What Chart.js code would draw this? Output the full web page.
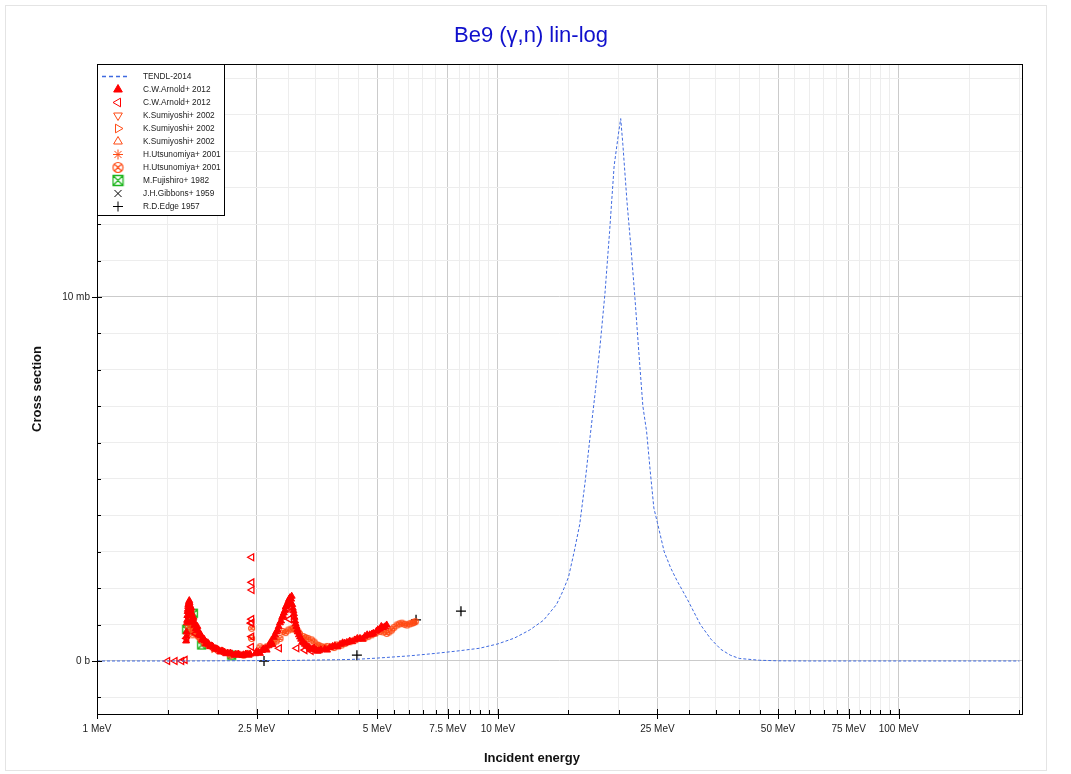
<!DOCTYPE html>
<html>
<head>
<meta charset="utf-8">
<title>Be9 (γ,n) lin-log</title>
<script src="https://cdn.jsdelivr.net/npm/chart.js@4.4.1/dist/chart.umd.min.js"></script>
<style>
  html, body { margin: 0; padding: 0; background: #fff; }
  #plot { display: block; }
</style>
</head>
<body>
<canvas id="plot" width="1071" height="774"></canvas>
<script>
// Energies in MeV, cross sections in mb

// TENDL-2014 evaluation
const tendlE = [1, 1.665, 2, 2.5, 3, 3.5, 4, 4.5, 5, 6, 7, 8, 9, 10, 11, 12, 13, 14, 14.5, 15, 15.5, 16, 16.5, 17, 17.5, 18, 18.5, 19, 19.5, 20, 20.25, 20.5, 21, 21.5, 22, 22.5, 23, 23.5, 24, 24.5, 25, 26, 27, 28, 29, 30, 32, 34, 36, 38, 40, 45, 50, 60, 80, 100, 150, 200];
const tendlXs = [0, 0, 0.005, 0.01, 0.015, 0.025, 0.035, 0.05, 0.08, 0.14, 0.21, 0.28, 0.35, 0.47, 0.63, 0.85, 1.12, 1.55, 1.9, 2.3, 3.0, 3.75, 4.9, 6.2, 7.4, 8.7, 10.1, 11.8, 13.6, 14.5, 14.9, 14.2, 12.6, 11.3, 9.9, 8.4, 7.0, 6.3, 5.2, 4.2, 3.8, 3.0, 2.55, 2.2, 1.9, 1.6, 1.0, 0.6, 0.32, 0.16, 0.07, 0.02, 0.005, 0, 0, 0, 0, 0];

// C.W.Arnold+ 2012 (filled triangles)
const arnoldAE = [1.668, 1.672, 1.676, 1.680, 1.685, 1.690, 1.696, 1.702, 1.708, 1.714, 1.720, 1.727, 1.735, 1.745, 1.757, 1.770, 1.785, 1.800, 1.817, 1.835, 1.855, 1.877, 1.90, 1.925, 1.95, 1.98, 2.01, 2.04, 2.08, 2.12, 2.17, 2.22, 2.27, 2.32, 2.37, 2.41,
  1.671, 1.678, 1.683, 1.688, 1.694, 1.699, 1.705, 1.711, 1.717, 1.723, 1.730, 1.740, 1.750, 1.765, 1.780, 1.795, 1.810, 1.830, 1.850, 1.870, 1.890, 1.915, 1.940, 1.970, 2.00, 2.03, 2.06, 2.10, 2.15, 2.20, 2.25, 2.30, 2.35, 2.39,
  2.48, 2.53, 2.58, 2.63, 2.68, 2.72, 2.76, 2.80, 2.84, 2.88, 2.91, 2.94, 2.97, 3.00, 3.03, 3.05, 3.07, 3.09, 3.11, 3.13, 3.16, 3.19, 3.23, 3.28, 3.33, 3.39, 3.45, 3.52, 3.58,
  2.50, 2.55, 2.60, 2.65, 2.70, 2.74, 2.78, 2.82, 2.86, 2.895, 2.925, 2.955, 2.985, 3.015, 3.04, 3.06, 3.08, 3.10, 3.12, 3.145, 3.17, 3.21, 3.25, 3.30, 3.36, 3.42, 3.48, 3.55, 3.62,
  3.70, 3.81, 3.92, 4.04, 4.15, 4.20, 4.27, 4.40, 4.53, 4.66, 4.79, 4.89, 4.98, 5.08, 5.17, 5.23, 5.28,
  3.75, 3.87, 3.98, 4.10, 4.33, 4.46, 4.60, 4.72, 4.85, 5.02, 5.12];
const arnoldAXs = [0.55, 0.80, 1.05, 1.25, 1.42, 1.55, 1.62, 1.60, 1.52, 1.42, 1.33, 1.24, 1.16, 1.08, 1.00, 0.92, 0.84, 0.76, 0.69, 0.62, 0.56, 0.51, 0.46, 0.42, 0.38, 0.34, 0.30, 0.27, 0.24, 0.22, 0.20, 0.18, 0.17, 0.17, 0.18, 0.19,
  0.68, 1.12, 1.36, 1.50, 1.58, 1.66, 1.48, 1.36, 1.46, 1.28, 1.12, 1.20, 0.98, 0.88, 0.95, 0.72, 0.75, 0.58, 0.60, 0.47, 0.50, 0.40, 0.41, 0.33, 0.32, 0.25, 0.27, 0.20, 0.22, 0.16, 0.19, 0.15, 0.19, 0.16,
  0.20, 0.24, 0.29, 0.34, 0.42, 0.52, 0.65, 0.80, 0.95, 1.10, 1.25, 1.38, 1.52, 1.64, 1.74, 1.70, 1.55, 1.38, 1.20, 1.02, 0.86, 0.72, 0.60, 0.50, 0.43, 0.37, 0.33, 0.30, 0.28,
  0.26, 0.21, 0.33, 0.30, 0.48, 0.45, 0.72, 0.85, 1.05, 1.20, 1.32, 1.48, 1.58, 1.70, 1.62, 1.78, 1.45, 1.30, 1.10, 0.95, 0.80, 0.66, 0.52, 0.46, 0.40, 0.32, 0.36, 0.27, 0.31,
  0.33, 0.37, 0.42, 0.46, 0.49, 0.51, 0.55, 0.58, 0.62, 0.68, 0.72, 0.76, 0.82, 0.88, 0.92, 0.94, 0.99,
  0.30, 0.40, 0.39, 0.50, 0.53, 0.62, 0.60, 0.72, 0.74, 0.86, 0.95];

// C.W.Arnold+ 2012 (open left triangles)
const arnoldBE = [1.50, 1.565, 1.626, 1.658, 1.674, 1.712, 1.733, 1.762, 2.425, 2.428, 2.431, 2.433, 2.431, 2.435, 2.433, 2.431, 2.85, 2.98, 3.02, 3.15, 3.30, 3.42];
const arnoldBXs = [0.0, 0.0, 0.0, 0.03, 0.62, 1.35, 1.05, 0.75, 1.04, 0.39, 0.67, 1.05, 1.15, 1.95, 2.16, 2.85, 0.35, 1.45, 1.15, 0.35, 0.30, 0.28];

// K.Sumiyoshi+ 2002 (three sets)
const sumiDownE = [1.74, 1.80];
const sumiDownXs = [0.95, 0.62];
const sumiRightE = [1.85, 1.96];
const sumiRightXs = [0.52, 0.34];
const sumiUpE = [2.05, 2.72];
const sumiUpXs = [0.26, 0.55];

// H.Utsunomiya+ 2001
const utsuStarE = [1.71, 1.78, 1.88];
const utsuStarXs = [1.30, 0.78, 0.47];
const utsuCircE = [1.70, 1.72, 1.74, 1.76, 1.79, 1.82, 1.86, 1.90, 1.95, 2.00, 2.07, 2.15, 2.23, 2.32, 2.38, 2.43, 2.43, 2.55, 2.65, 2.75, 2.86, 2.91, 3.00, 3.09, 3.17, 3.27, 3.36, 3.43, 3.54, 3.63, 3.85, 3.96, 4.07, 4.27, 4.53, 4.74, 4.94, 5.08, 5.28, 5.43, 5.60, 5.76, 5.93, 6.10, 6.22,
  1.69, 1.71, 1.73, 2.80, 2.95, 3.05, 3.12, 3.20, 3.31, 3.48, 3.58, 3.70, 3.75, 3.90, 4.00, 4.15, 4.40, 4.64, 4.84, 5.18, 5.35, 5.50, 5.68, 5.85, 6.02, 6.16];
const utsuCircXs = [1.20, 1.02, 0.88, 0.76, 0.67, 0.58, 0.50, 0.42, 0.36, 0.30, 0.25, 0.16, 0.19, 0.16, 0.21, 0.90, 0.62, 0.39, 0.39, 0.49, 0.62, 0.81, 0.85, 0.90, 0.81, 0.67, 0.62, 0.58, 0.44, 0.39, 0.39, 0.44, 0.44, 0.53, 0.62, 0.67, 0.76, 0.81, 0.76, 0.85, 0.99, 1.04, 0.99, 1.04, 1.08,
  0.95, 0.82, 0.72, 0.55, 0.78, 0.88, 0.86, 0.75, 0.64, 0.52, 0.42, 0.38, 0.40, 0.37, 0.42, 0.48, 0.58, 0.63, 0.72, 0.80, 0.80, 0.92, 1.02, 1.01, 1.02, 1.06];

// M.Fujishiro+ 1982
const fujiE = [1.674, 1.722, 1.739, 1.824, 2.167];
const fujiXs = [0.87, 1.08, 1.31, 0.44, 0.16];

// J.H.Gibbons+ 1959
const gibbonsE = [1.69];
const gibbonsXs = [1.10];

// R.D.Edge 1957
const edgeE = [2.61, 4.45, 6.25, 8.09];
const edgeXs = [0.0, 0.16, 1.13, 1.37];

// Axis ticks
const xTicks = [1, 1.5, 2, 2.5, 3, 3.5, 4, 4.5, 5, 5.5, 6, 6.5, 7, 7.5, 8, 8.5, 9, 9.5, 10, 15, 20, 25, 30, 35, 40, 45, 50, 55, 60, 65, 70, 75, 80, 85, 90, 95, 100, 150, 200];
const xMajor = [1, 2.5, 5, 7.5, 10, 25, 50, 75, 100];
const xLabels = ['1 MeV', '2.5 MeV', '5 MeV', '7.5 MeV', '10 MeV', '25 MeV', '50 MeV', '75 MeV', '100 MeV'];
const yTicks = [-1, 0, 1, 2, 3, 4, 5, 6, 7, 8, 9, 10, 11, 12, 13, 14, 15, 16];
const yMajor = [0, 10];
const yLabels = ['0 b', '10 mb'];

const FONT = '"Liberation Sans", Arial, sans-serif';
const RED = '#ff0000';
const ORANGE = '#ff4a14';
const GREEN = '#1fb51f';
const BLUE = '#3f6ae0';

function pairs(es, vs) {
    return es.map((e, i) => ({ x: e, y: vs[i] }));
}

// Small canvases for the two marker shapes Chart.js does not have
function circleCross(color, r) {
    const c = document.createElement('canvas');
    const s = Math.ceil(r * 2 + 3);
    c.width = s; c.height = s;
    const g = c.getContext('2d');
    const m = s / 2;
    g.strokeStyle = color;
    g.lineWidth = 1.2;
    g.beginPath();
    g.arc(m, m, r, 0, Math.PI * 2);
    const d = r * 0.7071;
    g.moveTo(m - d, m - d); g.lineTo(m + d, m + d);
    g.moveTo(m - d, m + d); g.lineTo(m + d, m - d);
    g.stroke();
    return c;
}

function squareCross(color, half) {
    const c = document.createElement('canvas');
    const s = Math.ceil(half * 2 + 3);
    c.width = s; c.height = s;
    const g = c.getContext('2d');
    const m = s / 2;
    g.strokeStyle = color;
    g.lineWidth = 1.3;
    g.beginPath();
    g.rect(m - half, m - half, half * 2, half * 2);
    g.moveTo(m - half, m - half); g.lineTo(m + half, m + half);
    g.moveTo(m - half, m + half); g.lineTo(m + half, m - half);
    g.stroke();
    return c;
}

const circPlot = circleCross(ORANGE, 3);
const circLegend = circleCross(ORANGE, 5);
const sqPlot = squareCross(GREEN, 4);
const sqLegend = squareCross(GREEN, 5);

function markers(label, data, style, color, filled, rotation, radius, legendStyle) {
    return {
        label: label,
        data: data,
        showLine: false,
        pointStyle: style,
        pointRotation: rotation,
        pointRadius: radius,
        pointBorderWidth: filled ? 1 : 1.3,
        pointBorderColor: color,
        pointBackgroundColor: filled ? color : 'rgba(0,0,0,0)',
        borderColor: color,
        backgroundColor: filled ? color : 'rgba(0,0,0,0)',
        legendStyle: legendStyle || style
    };
}

const datasets = [
    {
        label: 'TENDL-2014',
        data: pairs(tendlE, tendlXs),
        showLine: true,
        borderColor: BLUE,
        borderWidth: 1,
        borderDash: [3, 2],
        pointRadius: 0,
        tension: 0,
        isLine: true
    },
    markers('C.W.Arnold+ 2012', pairs(arnoldAE, arnoldAXs), 'triangle', RED, true, 0, 4),
    markers('C.W.Arnold+ 2012', pairs(arnoldBE, arnoldBXs), 'triangle', RED, false, 270, 4),
    markers('K.Sumiyoshi+ 2002', pairs(sumiDownE, sumiDownXs), 'triangle', ORANGE, false, 180, 4),
    markers('K.Sumiyoshi+ 2002', pairs(sumiRightE, sumiRightXs), 'triangle', ORANGE, false, 90, 4),
    markers('K.Sumiyoshi+ 2002', pairs(sumiUpE, sumiUpXs), 'triangle', ORANGE, false, 0, 4),
    markers('H.Utsunomiya+ 2001', pairs(utsuStarE, utsuStarXs), 'star', ORANGE, false, 0, 4),
    markers('H.Utsunomiya+ 2001', pairs(utsuCircE, utsuCircXs), circPlot, ORANGE, false, 0, 3, circLegend),
    markers('M.Fujishiro+ 1982', pairs(fujiE, fujiXs), sqPlot, GREEN, false, 0, 4, sqLegend),
    markers('J.H.Gibbons+ 1959', pairs(gibbonsE, gibbonsXs), 'crossRot', '#000', false, 0, 4),
    markers('R.D.Edge 1957', pairs(edgeE, edgeXs), 'cross', '#000', false, 0, 5)
];

// Frame, tick marks, titles and the boxed legend
const decorations = {
    id: 'decorations',
    afterDatasetsDraw(chart) {
        const ctx = chart.ctx;
        const a = chart.chartArea;
        const xs = chart.scales.x;
        const ys = chart.scales.y;
        ctx.save();
        ctx.strokeStyle = '#000';
        ctx.lineWidth = 1;
        ctx.beginPath();
        xTicks.forEach(v => {
            const px = Math.round(xs.getPixelForValue(v)) + 0.5;
            if (xMajor.includes(v)) {
                ctx.moveTo(px, a.bottom - 5); ctx.lineTo(px, a.bottom + 5);
            } else {
                ctx.moveTo(px, a.bottom - 4); ctx.lineTo(px, a.bottom);
            }
        });
        yTicks.forEach(v => {
            const py = Math.round(ys.getPixelForValue(v)) + 0.5;
            if (yMajor.includes(v)) {
                ctx.moveTo(a.left - 5, py); ctx.lineTo(a.left + 5, py);
            } else {
                ctx.moveTo(a.left, py); ctx.lineTo(a.left + 4, py);
            }
        });
        ctx.stroke();
        ctx.strokeRect(a.left + 0.5, a.top + 0.5, a.right - a.left, a.bottom - a.top);
        ctx.restore();
    },
    afterDraw(chart) {
        const ctx = chart.ctx;
        const a = chart.chartArea;
        ctx.save();

        // outer figure outline
        ctx.strokeStyle = '#e4e4e4';
        ctx.lineWidth = 1;
        ctx.strokeRect(5.5, 5.5, 1041, 765);

        // titles
        ctx.fillStyle = '#1010cc';
        ctx.font = '22px ' + FONT;
        ctx.textAlign = 'center';
        ctx.textBaseline = 'middle';
        ctx.fillText('Be9 (γ,n) lin-log', 531, 36);

        ctx.fillStyle = '#111';
        ctx.font = 'bold 13px ' + FONT;
        ctx.fillText('Incident energy', 532, 758);
        ctx.save();
        ctx.translate(37, (a.top + a.bottom) / 2);
        ctx.rotate(-Math.PI / 2);
        ctx.fillText('Cross section', 0, 0);
        ctx.restore();

        // legend box
        const bx = a.left, by = a.top, bw = 127, rowH = 13;
        const bh = datasets.length * rowH + 8;
        ctx.fillStyle = '#fff';
        ctx.fillRect(bx, by, bw, bh);
        ctx.strokeStyle = '#000';
        ctx.strokeRect(bx + 0.5, by + 0.5, bw, bh);

        ctx.font = '8.3px ' + FONT;
        ctx.textAlign = 'left';
        ctx.textBaseline = 'middle';
        datasets.forEach((ds, i) => {
            const cy = by + 12.5 + i * rowH;
            const cx = bx + 21;
            if (ds.isLine) {
                ctx.save();
                ctx.strokeStyle = ds.borderColor;
                ctx.lineWidth = 1.5;
                ctx.setLineDash([4, 3]);
                ctx.beginPath();
                ctx.moveTo(bx + 5, cy);
                ctx.lineTo(bx + 32, cy);
                ctx.stroke();
                ctx.restore();
            } else {
                ctx.save();
                ctx.strokeStyle = ds.pointBorderColor;
                ctx.fillStyle = ds.pointBackgroundColor;
                ctx.lineWidth = 1;
                Chart.helpers.drawPoint(ctx, {
                    pointStyle: ds.legendStyle,
                    rotation: ds.pointRotation,
                    radius: 5,
                    borderWidth: 1
                }, cx, cy);
                ctx.restore();
            }
            ctx.fillStyle = '#222';
            ctx.fillText(ds.label, bx + 46, cy);
        });
        ctx.restore();
    }
};

const ctx = document.getElementById('plot').getContext('2d');
new Chart(ctx, {
    type: 'scatter',
    data: { datasets: datasets },
    options: {
        responsive: false,
        animation: false,
        events: [],
        layout: { padding: { top: 64, right: 49, bottom: 0, left: 0 } },
        plugins: {
            legend: { display: false },
            title: { display: false },
            tooltip: { enabled: false }
        },
        scales: {
            x: {
                type: 'logarithmic',
                min: 1,
                max: 203,
                afterBuildTicks: scale => {
                    scale.ticks = xTicks.map(v => ({ value: v }));
                },
                afterFit: scale => { scale.height = 60; },
                border: { display: false },
                grid: {
                    drawTicks: false,
                    lineWidth: 1,
                    color: c => xMajor.includes(c.tick.value) ? '#cbcbcb' : '#ededed'
                },
                ticks: {
                    autoSkip: false,
                    maxRotation: 0,
                    padding: 9,
                    color: '#222',
                    font: { family: FONT, size: 10 },
                    callback: v => {
                        const k = xMajor.indexOf(v);
                        return k >= 0 ? xLabels[k] : '';
                    }
                }
            },
            y: {
                type: 'linear',
                min: -1.456,
                max: 16.4,
                afterBuildTicks: scale => {
                    scale.ticks = yTicks.map(v => ({ value: v }));
                },
                afterFit: scale => { scale.width = 97; },
                border: { display: false },
                grid: {
                    drawTicks: false,
                    lineWidth: 1,
                    color: c => yMajor.includes(c.tick.value) ? '#cbcbcb' : '#ededed'
                },
                ticks: {
                    autoSkip: false,
                    padding: 7,
                    color: '#222',
                    font: { family: FONT, size: 10 },
                    callback: v => {
                        const k = yMajor.indexOf(v);
                        return k >= 0 ? yLabels[k] : '';
                    }
                }
            }
        }
    },
    plugins: [decorations]
});
</script>
</body>
</html>
